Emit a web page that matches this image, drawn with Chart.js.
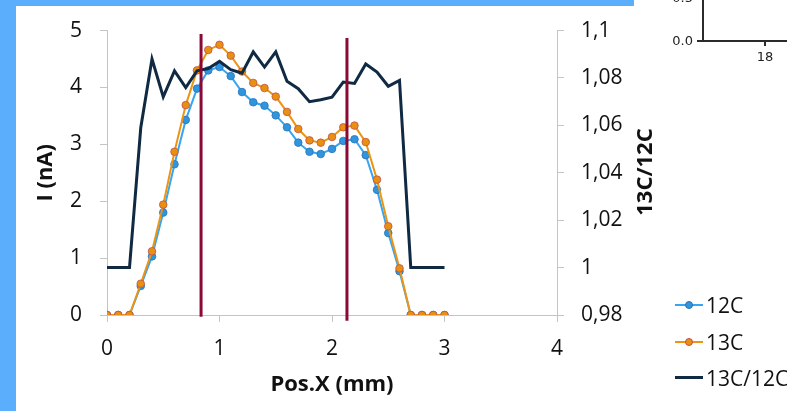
<!DOCTYPE html>
<html><head><meta charset="utf-8">
<script src="https://cdn.jsdelivr.net/npm/chart.js@4.4.1/dist/chart.umd.min.js"></script>
<style>
html,body{margin:0;padding:0;background:#fff;width:787px;height:411px;overflow:hidden;font-family:"Open Sans",sans-serif;}
#c{position:absolute;left:0;top:0;}
.blue{position:absolute;background:#5AAEFB;}
.fr{position:absolute;background:#2b2b2b;}
.ft{position:absolute;font-family:"DejaVu Sans",sans-serif;font-size:13px;line-height:16px;color:#222;white-space:nowrap;}
.lg{position:absolute;left:675px;width:28px;}
.lm{position:absolute;width:8px;height:8px;border-radius:50%;left:685px;box-sizing:border-box;border:1px solid;}
.lt{position:absolute;left:706px;font-size:21px;line-height:26px;color:#111;}
</style></head><body>
<canvas id="c" width="787" height="411"></canvas>
<div class="blue" style="left:0;top:0;width:16px;height:411px"></div>
<div class="blue" style="left:0;top:0;width:634px;height:6px"></div>
<!-- fragment of neighbouring figure -->
<div class="fr" style="left:702px;top:0;width:2px;height:42px"></div>
<div class="fr" style="left:697px;top:40px;width:90px;height:2px"></div>
<div class="fr" style="left:764px;top:41px;width:2px;height:5px"></div>
<div class="ft" style="right:94px;top:-10px">0.5</div>
<div class="ft" style="right:94px;top:33px">0.0</div>
<div class="ft" style="left:755px;width:20px;text-align:center;top:49px">18</div>
<div id="legend"></div>
<script>
// ---- data ----
const positions = [0,0.1,0.2,0.3,0.4,0.5,0.6,0.7,0.8,0.9,1.0,1.1,1.2,1.3,1.4,1.5,1.6,1.7,1.8,1.9,2.0,2.1,2.2,2.3,2.4,2.5,2.6,2.7,2.8,2.9,3.0];
const c12 = [0,0,0,0.51,1.03,1.80,2.65,3.43,3.98,4.30,4.36,4.20,3.92,3.74,3.68,3.51,3.30,3.03,2.87,2.83,2.92,3.06,3.09,2.81,2.20,1.44,0.77,0,0,0,0];
const c13 = [0,0,0,0.55,1.12,1.94,2.87,3.69,4.30,4.66,4.75,4.56,4.28,4.08,3.99,3.84,3.57,3.27,3.07,3.03,3.13,3.30,3.33,3.04,2.38,1.56,0.82,0,0,0,0];
const ratio = [1.0,1.0,1.0,1.059,1.088,1.072,1.083,1.076,1.083,1.084,1.087,1.0835,1.082,1.091,1.0846,1.091,1.0786,1.0755,1.070,1.0708,1.0719,1.0783,1.0777,1.0859,1.0825,1.0765,1.079,1.0,1.0,1.0,1.0];
const markerX = [0.836, 2.133];
const markerTop = [4.94, 4.87];
const markerBottom = [-0.03, -0.10];
const xTicks = [0,1,2,3,4];
const yTicks = [0,1,2,3,4,5];
const rTicks = [0.98,1.0,1.02,1.04,1.06,1.08,1.1];
const labels = {c12:'12C', c13:'13C', ratio:'13C/12C', x:'Pos.X (mm)', y:'I (nA)'};

const COL12 = '#36A6F2', COL12M = '#2F95DE', COL12B = '#2A72B5';
const COL13 = '#EC9414', COL13M = '#E8900F', COL13B = '#C0504D';
const COLR = '#0F2A42', COLV = '#8A0A35';
const AX = '#C4C4C4', TXT = '#111';

Chart.defaults.font.family = "'Open Sans', sans-serif";
Chart.defaults.color = TXT;

const pts = arr => positions.map((x,i)=>({x, y:arr[i]}));
const setTicks = arr => (s)=>{ s.ticks = arr.map(v=>({value:v})); };
const fmt = v => (Math.round(v*100)/100).toString().replace('.', ',');

const vDatasets = markerX.map((x,i)=>({
  label:'m'+i, data:[{x, y:markerTop[i]},{x, y:markerBottom[i]}], yAxisID:'y',
  borderColor:COLV, borderWidth:3, pointRadius:0, clip:false, borderCapStyle:'butt'
}));

const rightTitle = {
  id:'rtitle',
  afterDraw(chart){
    const ctx = chart.ctx; ctx.save();
    ctx.translate(646, 172); ctx.rotate(-Math.PI/2);
    ctx.font = "bold 22px 'Open Sans'"; ctx.fillStyle = TXT;
    ctx.textAlign='center'; ctx.textBaseline='middle';
    ctx.fillText(labels.ratio, 0, 0); ctx.restore();
  }
};

const chart = new Chart(document.getElementById('c'), {
  type:'line',
  data:{datasets:[
    ...vDatasets,
    {label:labels.ratio, data:pts(ratio), yAxisID:'y1', borderColor:COLR, borderWidth:3, pointRadius:0, tension:0, borderJoinStyle:'miter'},
    {label:labels.c13, data:pts(c13), yAxisID:'y', borderColor:COL13, borderWidth:2, pointRadius:3.8, pointBackgroundColor:COL13M, pointBorderColor:COL13B, pointBorderWidth:0.8, tension:0},
    {label:labels.c12, data:pts(c12), yAxisID:'y', borderColor:COL12, borderWidth:2, pointRadius:3.8, pointBackgroundColor:COL12M, pointBorderColor:COL12B, pointBorderWidth:0.8, tension:0}
  ]},
  options:{
    responsive:false, animation:false, devicePixelRatio:1,
    layout:{padding:{left:0,right:0,top:29,bottom:0}},
    plugins:{legend:{display:false}, tooltip:{enabled:false}},
    scales:{
      x:{type:'linear', position:'bottom', min:0, max:4,
        afterBuildTicks:setTicks(xTicks),
        afterFit:(s)=>{s.height=96;},
        grid:{display:true, drawOnChartArea:false, drawTicks:true, tickLength:7, color:AX},
        border:{display:true, color:AX, width:1},
        ticks:{font:{size:21}, padding:14, color:TXT},
        title:{display:true, text:labels.x, font:{size:22, weight:'bold'}, padding:{top:0,bottom:13}, color:TXT}
      },
      y:{type:'linear', position:'left', min:0, max:5,
        afterBuildTicks:setTicks(yTicks),
        afterFit:(s)=>{s.width=107;},
        grid:{display:true, drawOnChartArea:false, drawTicks:true, tickLength:7, color:AX},
        border:{display:true, color:AX, width:1},
        ticks:{font:{size:21}, padding:18, color:TXT},
        title:{display:true, text:labels.y, font:{size:22, weight:'bold'}, padding:{top:33,bottom:0}, color:TXT}
      },
      y1:{type:'linear', position:'right', min:0.98, max:1.1,
        afterBuildTicks:setTicks(rTicks),
        afterFit:(s)=>{s.width=230;},
        grid:{display:true, drawOnChartArea:false, drawTicks:true, tickLength:7, color:AX},
        border:{display:true, color:AX, width:1},
        ticks:{font:{size:21}, padding:17, color:TXT, callback:fmt}
      }
    }
  },
  plugins:[rightTitle]
});

// legend built from the chart's datasets
const lg = document.getElementById('legend');
const items = [chart.data.datasets[4], chart.data.datasets[3], chart.data.datasets[2]];
const ys = [305, 341.5, 377.5];
items.forEach((d,i)=>{
  const y = ys[i];
  const line = document.createElement('div'); line.className='lg';
  line.style.top = (y - d.borderWidth/2)+'px'; line.style.height = d.borderWidth+'px'; line.style.background = d.borderColor;
  lg.appendChild(line);
  if (d.pointRadius > 0){
    const m = document.createElement('div'); m.className='lm';
    m.style.top = (y-4)+'px'; m.style.background = d.pointBackgroundColor; m.style.borderColor = d.pointBorderColor;
    lg.appendChild(m);
  }
  const t = document.createElement('div'); t.className='lt';
  t.style.top = (y-13)+'px'; t.textContent = d.label;
  lg.appendChild(t);
});
</script>
</body></html>
